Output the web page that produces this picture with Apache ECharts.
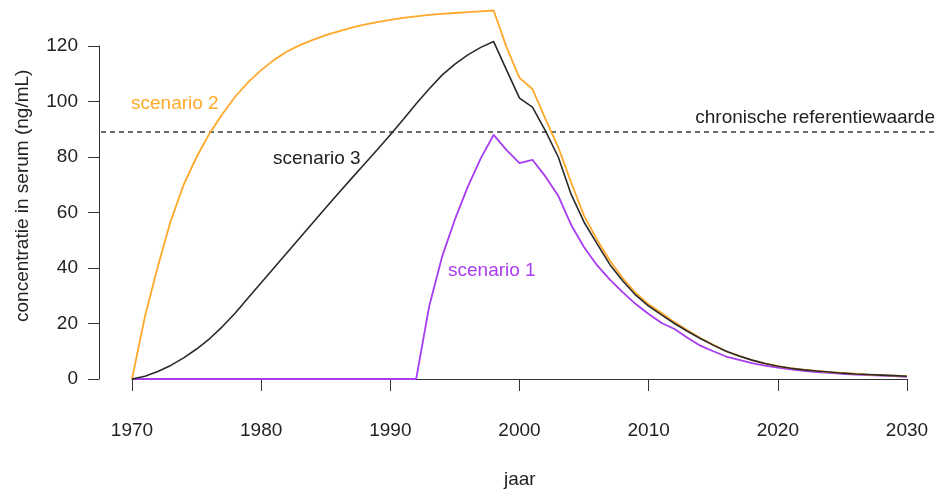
<!DOCTYPE html>
<html>
<head>
<meta charset="utf-8">
<script src="https://cdn.jsdelivr.net/npm/echarts@6/dist/echarts.min.js"></script>
<style>
html,body{margin:0;padding:0;background:#fff;}
#chart{width:939px;height:493px;}
</style>
</head>
<body>
<div id="chart"></div>
<script>
const years = [1970,1971,1972,1973,1974,1975,1976,1977,1978,1979,
  1980,1981,1982,1983,1984,1985,1986,1987,1988,1989,
  1990,1991,1992,1993,1994,1995,1996,1997,1998,1999,
  2000,2001,2002,2003,2004,2005,2006,2007,2008,2009,
  2010,2011,2012,2013,2014,2015,2016,2017,2018,2019,
  2020,2021,2022,2023,2024,2025,2026,2027,2028,2029,2030];

const scenario1 = [0,0,0,0,0,0,0,0,0,0,
  0,0,0,0,0,0,0,0,0,0,
  0,0,0,26,44,57.5,69.3,79.5,88,82.5,
  77.8,79,73,66,55.5,47.5,41,35.8,31.2,27,
  23.4,20.2,18.0,14.9,12.0,10.0,8.1,6.9,5.7,4.8,
  4.1,3.5,2.9,2.5,2.2,1.9,1.6,1.4,1.2,1.0,0.8];

const scenario2 = [0,22.5,40.5,57,70,80,88.5,95.5,101.8,107,
  111.3,115,118,120.3,122.2,123.9,125.3,126.6,127.7,128.6,
  129.4,130.1,130.7,131.2,131.6,131.9,132.2,132.5,132.8,119.5,
  108.5,104.5,93.8,83.5,70.8,58.8,50.2,42.6,36.3,31.0,
  26.9,23.8,20.5,17.6,14.8,12.3,10.0,8.3,6.8,5.6,
  4.6,3.9,3.4,2.9,2.5,2.2,1.9,1.6,1.4,1.2,1.0];

const scenario3 = [0,1.0,2.7,4.9,7.6,10.8,14.5,18.9,23.8,29.3,
  34.7,40.1,45.5,50.9,56.3,61.7,67.0,72.3,77.5,82.7,
  88.0,93.5,99.2,104.5,109.5,113.5,116.8,119.5,121.6,111.3,
  101.2,98.0,89.5,80.0,66.5,56.5,48.8,41.2,35.3,30.2,
  26.3,23.1,20.0,17.2,14.6,12.2,10.0,8.3,6.8,5.6,
  4.6,3.9,3.3,2.9,2.5,2.1,1.8,1.6,1.4,1.2,1.0];

const referenceValue = 89;
const xTicks = [1970,1980,1990,2000,2010,2020,2030];
const yTicks = [0,20,40,60,80,100,120];

const FONT = '"Liberation Sans", Arial, sans-serif';
const TXT = '#222';
const AX = '#333';
const C1 = '#A83CF0', C2 = '#FFA82A', C3 = '#2a2a2a';

function pairs(vals){ return years.map((y,i)=>[y, vals[i]]); }

const xMin = xTicks[0], xMax = xTicks[xTicks.length-1];
const yMin = yTicks[0], yMax = yTicks[yTicks.length-1];
const xExt = (xMax - xMin) * 0.04;

const chart = echarts.init(document.getElementById('chart'), null, {renderer:'canvas'});
const option = {
  animation:false,
  backgroundColor:'#fff',
  grid:[
    {left:132, right:32, top:46, bottom:114, containLabel:false},
    {left:101, right:1, top:46, bottom:114, containLabel:false}
  ],
  xAxis:[{
    type:'value', gridIndex:0, min:xMin, max:xMax, interval:xTicks[1]-xTicks[0],
    offset:15,
    axisLine:{show:true, lineStyle:{color:AX, width:1}},
    axisTick:{show:true, length:12, lineStyle:{color:AX, width:1}},
    axisLabel:{color:TXT, fontSize:19, fontFamily:FONT, margin:27, formatter:v=>String(v)},
    splitLine:{show:false}
  },{
    type:'value', gridIndex:1, min:xMin-xExt, max:xMax+xExt, show:false
  }],
  yAxis:[{
    type:'value', gridIndex:0, min:yMin, max:yMax, interval:yTicks[1]-yTicks[0],
    offset:33,
    axisLine:{show:true, lineStyle:{color:AX, width:1}},
    axisTick:{show:true, length:11, lineStyle:{color:AX, width:1}},
    axisLabel:{color:TXT, fontSize:19, fontFamily:FONT, margin:21},
    splitLine:{show:false}
  },{
    type:'value', gridIndex:1, min:yMin, max:yMax, show:false
  }],
  series:[
    {type:'line', name:'referentie', xAxisIndex:1, yAxisIndex:1,
      data:[[xMin-xExt, referenceValue],[xMax+xExt, referenceValue]],
      showSymbol:false, silent:true,
      lineStyle:{color:'#3a3a3a', width:1.6, type:[5,4]}},
    {type:'line', name:'scenario 1', data:pairs(scenario1), showSymbol:false, clip:false,
      lineStyle:{color:C1, width:1.8}},
    {type:'line', name:'scenario 2', data:pairs(scenario2), showSymbol:false, clip:false,
      lineStyle:{color:C2, width:1.8}},
    {type:'line', name:'scenario 3', data:pairs(scenario3), showSymbol:false, clip:false,
      lineStyle:{color:C3, width:1.6}}
  ],
  graphic:[
    {type:'text', left:131, top:94, style:{text:'scenario 2', fill:C2, font:'19px '+FONT}},
    {type:'text', left:273, top:149, style:{text:'scenario 3', fill:'#222', font:'19px '+FONT}},
    {type:'text', left:448, top:261, style:{text:'scenario 1', fill:C1, font:'19px '+FONT}},
    {type:'text', right:4, top:108, style:{text:'chronische referentiewaarde', fill:'#222', font:'19px '+FONT}},
    {type:'text', left:504, top:470, style:{text:'jaar', fill:'#222', font:'19px '+FONT}},
    {type:'text', x:13, y:322, rotation:Math.PI/2, style:{text:'concentratie in serum (ng/mL)', fill:'#222', font:'19px '+FONT}}
  ]
};
chart.setOption(option);
</script>
</body>
</html>
